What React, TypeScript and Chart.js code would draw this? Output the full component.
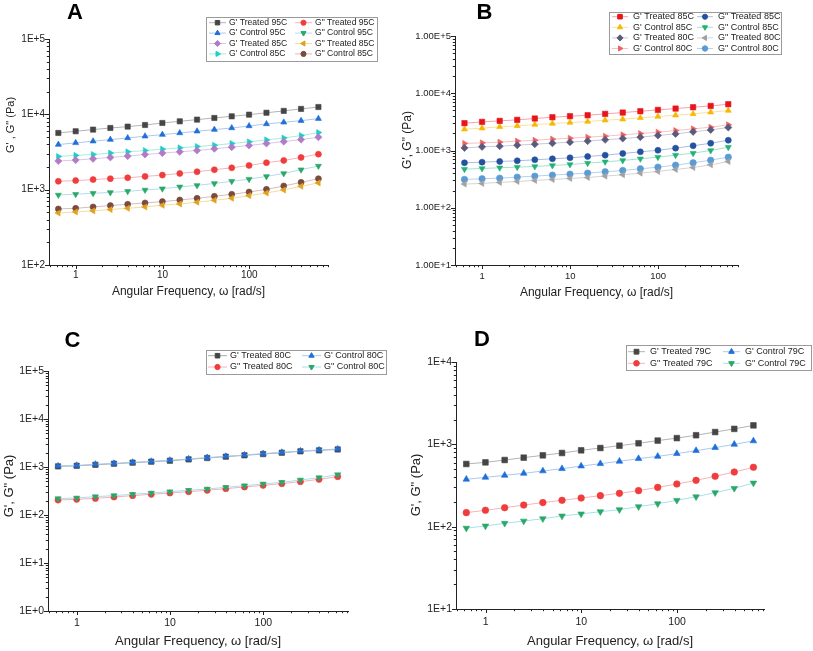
import React, { useEffect, useRef } from 'react';
import { Chart, registerables } from 'chart.js';
import { drawPoint } from 'chart.js/helpers';

Chart.register(...registerables);

const FONT = "'Liberation Sans', Arial, Helvetica, sans-serif";
const TXT = '#222222';
const AXIS = '#222222';

// ---- shared axis data ----
const freq = [0.628, 0.995, 1.58, 2.5, 3.96, 6.28, 9.95, 15.8, 25, 39.6, 62.8, 99.5, 158, 250, 396, 628];
const xTickValues = [1, 10, 100];
const xTickLabels = ['1', '10', '100'];
const xMin = 0.49;
const xMax = 810;
const xTitle = 'Angular Frequency, \u03c9 [rad/s]';

// ---- panel A ----
const aYTickValues = [1e2, 1e3, 1e4, 1e5];
const aYTickLabels = ['1E+2', '1E+3', '1E+4', '1E+5'];
const aGpTreated95 = [5660, 5960, 6270, 6590, 6870, 7220, 7680, 8080, 8510, 8950, 9410, 9900, 10500, 11100, 11800, 12500];
const aGpControl95 = [3970, 4180, 4400, 4620, 4860, 5120, 5380, 5660, 5960, 6270, 6590, 7010, 7450, 7840, 8250, 8770];
const aGpTreated85 = [2400, 2470, 2570, 2680, 2790, 2930, 3060, 3180, 3310, 3490, 3670, 3860, 4100, 4350, 4620, 4970];
const aGpControl85 = [2760, 2850, 2930, 3060, 3180, 3310, 3450, 3590, 3740, 3890, 4100, 4310, 4580, 4860, 5220, 5730];
const aGppTreated95 = [1290, 1320, 1360, 1400, 1440, 1500, 1560, 1640, 1730, 1840, 1950, 2100, 2280, 2440, 2680, 2960];
const aGppControl95 = [850, 870, 895, 920, 950, 990, 1030, 1090, 1140, 1210, 1290, 1380, 1500, 1640, 1840, 2060];
const aGppTreated85 = [490, 507, 523, 545, 566, 590, 621, 647, 681, 723, 768, 833, 904, 990, 1110, 1230];
const aGppControl85 = [555, 566, 590, 615, 640, 667, 694, 730, 768, 816, 868, 931, 1010, 1120, 1250, 1400];

// ---- panel B ----
const bYTickValues = [1e1, 1e2, 1e3, 1e4, 1e5];
const bYTickLabels = ['1.00E+1', '1.00E+2', '1.00E+3', '1.00E+4', '1.00E+5'];
const bGpTreated85 = [3000, 3160, 3290, 3430, 3620, 3810, 3970, 4130, 4360, 4600, 4850, 5120, 5400, 5700, 6010, 6430];
const bGpControl85 = [2360, 2450, 2590, 2690, 2840, 2960, 3080, 3210, 3380, 3520, 3720, 3920, 4130, 4360, 4670, 4990];
const bGpTreated80 = [1110, 1160, 1190, 1240, 1290, 1340, 1400, 1460, 1540, 1620, 1710, 1830, 1950, 2120, 2290, 2520];
const bGpControl80 = [1330, 1360, 1400, 1460, 1510, 1580, 1640, 1710, 1780, 1880, 1980, 2090, 2230, 2390, 2550, 2810];
const bGppTreated85 = [610, 626, 643, 661, 688, 716, 745, 786, 829, 887, 948, 1010, 1100, 1210, 1340, 1510];
const bGppControl85 = [472, 485, 499, 512, 526, 547, 570, 601, 634, 670, 716, 766, 829, 898, 1000, 1140];
const bGppTreated80 = [259, 266, 277, 288, 300, 312, 325, 338, 357, 377, 403, 431, 467, 505, 562, 643];
const bGppControl80 = [312, 321, 329, 343, 357, 372, 387, 403, 425, 448, 479, 512, 555, 610, 678, 766];

// ---- panel C ----
const cYTickValues = [1e0, 1e1, 1e2, 1e3, 1e4, 1e5];
const cYTickLabels = ['1E+0', '1E+1', '1E+2', '1E+3', '1E+4', '1E+5'];
const cGpTreated80 = [1030, 1060, 1110, 1170, 1230, 1290, 1350, 1440, 1540, 1640, 1750, 1860, 1980, 2120, 2220, 2320];
const cGppTreated80 = [205, 212, 222, 237, 253, 270, 287, 306, 327, 354, 383, 415, 450, 495, 553, 630];
const cGpControl80 = [1050, 1080, 1140, 1190, 1250, 1310, 1380, 1470, 1570, 1670, 1780, 1900, 2020, 2160, 2260, 2370];
const cGppControl80 = [219, 226, 241, 253, 270, 287, 306, 327, 348, 377, 408, 443, 479, 536, 600, 692];

// ---- panel D ----
const dYTickValues = [1e1, 1e2, 1e3, 1e4];
const dYTickLabels = ['1E+1', '1E+2', '1E+3', '1E+4'];
const dGpTreated79 = [577, 604, 645, 689, 735, 785, 846, 902, 963, 1030, 1110, 1190, 1290, 1410, 1540, 1700];
const dGppTreated79 = [148, 158, 170, 183, 196, 209, 223, 238, 254, 274, 300, 330, 365, 409, 461, 526];
const dGpControl79 = [376, 397, 420, 444, 475, 506, 545, 582, 622, 670, 714, 771, 838, 912, 1000, 1100];
const dGppControl79 = [96, 102, 110, 117, 125, 135, 143, 152, 161, 175, 190, 209, 231, 259, 292, 339];

type Series = {
  label: string;
  values: number[];
  color: string;
  line: string;
  style: string;
  rot?: number;
  r: number;
  order?: number;
};

type LegendCfg = {
  x: number; y: number; w: number; h: number;
  rows: number; row0: number; rowH: number; colW: number;
  lineOff: number; lineLen: number; textGap: number; fontSize: number; markerScale: number;
};

type PanelCfg = {
  left: number; top: number; w: number; h: number;
  area: { l: number; r: number; t: number; b: number };
  yMin: number; yMax: number;
  yTickValues: number[]; yTickLabels: string[];
  series: Series[];
  letter: string; letterX: number; letterY: number;
  yTitle: string; yTitleX: number; yTitleY: number; yTitleSize: number;
  xH: number; xTitleSize: number; tickSize: number; xLabelPad: number; yLabelPad: number;
  legend: LegendCfg;
};

const panels: PanelCfg[] = [
  {
    left: 0, top: 0, w: 400, h: 320,
    area: { l: 49, r: 328, t: 39, b: 265 },
    yMin: 1e2, yMax: 1e5, yTickValues: aYTickValues, yTickLabels: aYTickLabels,
    series: [
      { label: "G' Treated 95C", values: aGpTreated95, color: '#454545', line: '#b4b4b4', style: 'rect', r: 3.7 },
      { label: "G' Control 95C", values: aGpControl95, color: '#1f6fd8', line: '#a9c9ef', style: 'triangle', r: 3.5 },
      { label: "G' Treated 85C", values: aGpTreated85, color: '#b27bc8', line: '#dcc6e7', style: 'rectRot', r: 3.6 },
      { label: "G' Control 85C", values: aGpControl85, color: '#1ccfc6', line: '#a6eedb', style: 'triangle', rot: 90, r: 3.5 },
      { label: 'G" Treated 95C', values: aGppTreated95, color: '#f03c3c', line: '#f7b2ba', style: 'circle', r: 3.0 },
      { label: 'G" Control 95C', values: aGppControl95, color: '#2aa868', line: '#b3dcef', style: 'triangle', rot: 180, r: 3.5 },
      { label: 'G" Treated 85C', values: aGppTreated85, color: '#e0a21e', line: '#f3de9e', style: 'triangle', rot: 270, r: 3.5 },
      { label: 'G" Control 85C', values: aGppControl85, color: '#7a4a3c', line: '#d8bcbc', style: 'circle', r: 3.0 },
    ],
    letter: 'A', letterX: 75, letterY: 13,
    yTitle: 'G\' , G" (Pa)', yTitleX: 11, yTitleY: 125, yTitleSize: 11,
    xH: 34.2, xTitleSize: 12, tickSize: 10, xLabelPad: 4, yLabelPad: 4,
    legend: { x: 206, y: 16.5, w: 171, h: 43.5, rows: 4, row0: 22.7, rowH: 10.4, colW: 86, lineOff: 3, lineLen: 17, textGap: 3, fontSize: 8.6, markerScale: 0.85 },
  },
  {
    left: 400, top: 0, w: 413, h: 320,
    area: { l: 55, r: 338, t: 36, b: 265 },
    yMin: 1e1, yMax: 1e5, yTickValues: bYTickValues, yTickLabels: bYTickLabels,
    series: [
      { label: "G' Treated 85C", values: bGpTreated85, color: '#e8141c', line: '#f5a3a6', style: 'rect', r: 3.8 },
      { label: "G' Control 85C", values: bGpControl85, color: '#f6b800', line: '#f8e1a0', style: 'triangle', r: 3.5 },
      { label: "G' Treated 80C", values: bGpTreated80, color: '#5a5b7c', line: '#c9c9dc', style: 'rectRot', r: 3.6 },
      { label: "G' Control 80C", values: bGpControl80, color: '#f06262', line: '#f8c2c2', style: 'triangle', rot: 90, r: 3.5 },
      { label: 'G" Treated 85C', values: bGppTreated85, color: '#2452a0', line: '#a9bde0', style: 'circle', r: 3.0 },
      { label: 'G" Control 85C', values: bGppControl85, color: '#22b274', line: '#a3e2d2', style: 'triangle', rot: 180, r: 3.5 },
      { label: 'G" Treated 80C', values: bGppTreated80, color: '#a2a2a2', line: '#d4d4d4', style: 'triangle', rot: 270, r: 3.5 },
      { label: 'G" Control 80C', values: bGppControl80, color: '#5b9bd5', line: '#b4d2f0', style: 'circle', r: 3.2 },
    ],
    letter: 'B', letterX: 84.5, letterY: 13,
    yTitle: 'G\', G" (Pa)', yTitleX: 8, yTitleY: 140, yTitleSize: 12,
    xH: 35.2, xTitleSize: 12, tickSize: 9.5, xLabelPad: 5.5, yLabelPad: 4,
    legend: { x: 209, y: 11.7, w: 172, h: 41.6, rows: 4, row0: 16.7, rowH: 10.6, colW: 85, lineOff: 3, lineLen: 16, textGap: 5, fontSize: 9, markerScale: 0.85 },
  },
  {
    left: 0, top: 320, w: 400, h: 331,
    area: { l: 48, r: 348, t: 51, b: 291 },
    yMin: 1e0, yMax: 1e5, yTickValues: cYTickValues, yTickLabels: cYTickLabels,
    series: [
      { label: "G' Treated 80C", values: cGpTreated80, color: '#454545', line: '#a8a8a8', style: 'rect', r: 3.8, order: 1 },
      { label: 'G" Treated 80C', values: cGppTreated80, color: '#f03c3c', line: '#f7b2ba', style: 'circle', r: 3.1, order: 1 },
      { label: "G' Control 80C", values: cGpControl80, color: '#1f6fd8', line: '#a9c9ef', style: 'triangle', r: 3.6, order: 0 },
      { label: 'G" Control 80C', values: cGppControl80, color: '#2aa868', line: '#a6e0ec', style: 'triangle', rot: 180, r: 3.6, order: 0 },
    ],
    letter: 'C', letterX: 72.5, letterY: 21,
    yTitle: 'G\', G" (Pa)', yTitleX: 9.5, yTitleY: 166, yTitleSize: 13,
    xH: 38.5, xTitleSize: 13, tickSize: 10.5, xLabelPad: 5.7, yLabelPad: 4,
    legend: { x: 206, y: 30, w: 180, h: 24, rows: 2, row0: 35.7, rowH: 11.3, colW: 94, lineOff: 2, lineLen: 19, textGap: 3, fontSize: 9, markerScale: 0.85 },
  },
  {
    left: 400, top: 320, w: 413, h: 331,
    area: { l: 56, r: 364, t: 42, b: 289 },
    yMin: 1e1, yMax: 1e4, yTickValues: dYTickValues, yTickLabels: dYTickLabels,
    series: [
      { label: "G' Treated 79C", values: dGpTreated79, color: '#454545', line: '#b4b4b4', style: 'rect', r: 4.0 },
      { label: 'G" Treated 79C', values: dGppTreated79, color: '#f03c3c', line: '#f7b2ba', style: 'circle', r: 3.3 },
      { label: "G' Control 79C", values: dGpControl79, color: '#1f6fd8', line: '#a9c9ef', style: 'triangle', r: 3.8 },
      { label: 'G" Control 79C', values: dGppControl79, color: '#2aa868', line: '#a6e0ec', style: 'triangle', rot: 180, r: 3.8 },
    ],
    letter: 'D', letterX: 82, letterY: 20,
    yTitle: 'G\', G" (Pa)', yTitleX: 16, yTitleY: 165, yTitleSize: 13,
    xH: 40.5, xTitleSize: 13, tickSize: 10.5, xLabelPad: 6.4, yLabelPad: 4,
    legend: { x: 226, y: 25, w: 185, h: 25, rows: 2, row0: 31.7, rowH: 11.6, colW: 95, lineOff: 2, lineLen: 17, textGap: 5, fontSize: 9, markerScale: 0.85 },
  },
];

function drawLogTicks(ctx: CanvasRenderingContext2D, scale: any, horizontal: boolean, area: any) {
  const min = scale.min;
  const max = scale.max;
  const e0 = Math.floor(Math.log10(min));
  const e1 = Math.ceil(Math.log10(max));
  ctx.save();
  ctx.strokeStyle = AXIS;
  ctx.lineWidth = 1;
  ctx.beginPath();
  for (let e = e0; e <= e1; e++) {
    for (let m = 1; m <= 9; m++) {
      const v = m * Math.pow(10, e);
      if (v < min * 0.999 || v > max * 1.001) continue;
      const len = m === 1 ? 4 : 2.2;
      const p = Math.round(scale.getPixelForValue(v)) + 0.5;
      if (horizontal) {
        ctx.moveTo(p, area.bottom);
        ctx.lineTo(p, area.bottom + len);
      } else {
        ctx.moveTo(area.left, p);
        ctx.lineTo(area.left - len, p);
      }
    }
  }
  ctx.stroke();
  ctx.restore();
}

function Panel({ cfg }: { cfg: PanelCfg }) {
  const ref = useRef<HTMLCanvasElement | null>(null);

  useEffect(() => {
    const canvas = ref.current;
    if (!canvas) return;

    const decor = {
      id: 'decor',
      afterDraw(chart: any) {
        const ctx: CanvasRenderingContext2D = chart.ctx;
        const area = chart.chartArea;
        drawLogTicks(ctx, chart.scales.x, true, area);
        drawLogTicks(ctx, chart.scales.y, false, area);

        // panel letter
        ctx.save();
        ctx.fillStyle = '#000';
        ctx.font = `bold 22px ${FONT}`;
        ctx.textAlign = 'center';
        ctx.textBaseline = 'middle';
        ctx.fillText(cfg.letter, cfg.letterX, cfg.letterY);
        ctx.restore();

        // y axis title
        ctx.save();
        ctx.fillStyle = TXT;
        ctx.font = `${cfg.yTitleSize}px ${FONT}`;
        ctx.textAlign = 'center';
        ctx.textBaseline = 'middle';
        ctx.translate(cfg.yTitleX, cfg.yTitleY);
        ctx.rotate(-Math.PI / 2);
        ctx.fillText(cfg.yTitle, 0, 0);
        ctx.restore();

        // legend
        const L = cfg.legend;
        ctx.save();
        ctx.fillStyle = '#ffffff';
        ctx.fillRect(L.x, L.y, L.w, L.h);
        ctx.strokeStyle = '#9a9a9a';
        ctx.lineWidth = 1;
        ctx.strokeRect(Math.round(L.x) + 0.5, Math.round(L.y) + 0.5, Math.round(L.w), Math.round(L.h));
        ctx.font = `${L.fontSize}px ${FONT}`;
        ctx.textBaseline = 'middle';
        ctx.textAlign = 'left';
        chart.data.datasets.forEach((ds: any, i: number) => {
          const col = Math.floor(i / L.rows);
          const row = i % L.rows;
          const x0 = L.x + L.lineOff + col * L.colW;
          const y0 = L.row0 + row * L.rowH;
          ctx.strokeStyle = ds.borderColor;
          ctx.lineWidth = 1;
          ctx.beginPath();
          ctx.moveTo(x0, y0);
          ctx.lineTo(x0 + L.lineLen, y0);
          ctx.stroke();
          ctx.fillStyle = ds.pointBackgroundColor;
          ctx.strokeStyle = ds.pointBorderColor;
          drawPoint(ctx, {
            pointStyle: ds.pointStyle,
            rotation: ds.pointRotation,
            radius: ds.pointRadius * L.markerScale,
            borderWidth: 0.6,
          } as any, x0 + L.lineLen / 2, y0);
          ctx.fillStyle = TXT;
          ctx.fillText(ds.label, x0 + L.lineLen + L.textGap, y0);
        });
        ctx.restore();
      },
    };

    const chart = new Chart(canvas, {
      type: 'line',
      data: {
        datasets: cfg.series.map((s) => ({
          label: s.label,
          data: freq.map((f, i) => ({ x: f, y: s.values[i] })),
          borderColor: s.line,
          backgroundColor: s.color,
          borderWidth: 1,
          pointStyle: s.style as any,
          pointRotation: s.rot || 0,
          pointRadius: s.r,
          pointHoverRadius: s.r,
          pointBackgroundColor: s.color,
          pointBorderColor: s.color,
          pointBorderWidth: 0.6,
          tension: 0,
          fill: false,
          order: s.order ?? 0,
        })),
      },
      options: {
        responsive: false,
        maintainAspectRatio: false,
        animation: false,
        events: [],
        layout: {
          padding: {
            left: 0,
            right: cfg.w - cfg.area.r,
            top: cfg.area.t,
            bottom: cfg.h - cfg.area.b - cfg.xH,
          },
        },
        plugins: {
          legend: { display: false },
          tooltip: { enabled: false },
          title: { display: false },
        },
        scales: {
          x: {
            type: 'logarithmic',
            min: xMin,
            max: xMax,
            bounds: 'data',
            grid: { display: false, drawTicks: false },
            border: { display: true, color: AXIS, width: 1 },
            ticks: {
              autoSkip: false,
              maxRotation: 0,
              minRotation: 0,
              padding: cfg.xLabelPad,
              color: TXT,
              font: { family: FONT, size: cfg.tickSize },
              callback: (_v: any, i: number) => xTickLabels[i],
            },
            afterBuildTicks: (s: any) => {
              s.ticks = xTickValues.map((v) => ({ value: v }));
            },
            afterFit: (s: any) => {
              s.height = cfg.xH;
            },
            title: {
              display: true,
              text: xTitle,
              color: TXT,
              font: { family: FONT, size: cfg.xTitleSize },
              padding: { top: 0, bottom: 0 },
            },
          },
          y: {
            type: 'logarithmic',
            min: cfg.yMin,
            max: cfg.yMax,
            bounds: 'data',
            grid: { display: false, drawTicks: false },
            border: { display: true, color: AXIS, width: 1 },
            ticks: {
              autoSkip: false,
              padding: cfg.yLabelPad,
              color: TXT,
              font: { family: FONT, size: cfg.tickSize },
              callback: (_v: any, i: number) => cfg.yTickLabels[i],
            },
            afterBuildTicks: (s: any) => {
              s.ticks = cfg.yTickValues.map((v) => ({ value: v }));
            },
            afterFit: (s: any) => {
              s.width = cfg.area.l;
            },
          },
        },
      } as any,
      plugins: [decor],
    });

    return () => chart.destroy();
  }, [cfg]);

  return (
    <canvas
      ref={ref}
      width={cfg.w}
      height={cfg.h}
      style={{ position: 'absolute', left: cfg.left, top: cfg.top, width: cfg.w, height: cfg.h }}
    />
  );
}

export default function App() {
  return (
    <div style={{ position: 'absolute', left: 0, top: 0, width: 813, height: 651, background: '#ffffff', overflow: 'hidden' }}>
      {panels.map((p) => (
        <Panel key={p.letter} cfg={p} />
      ))}
    </div>
  );
}
